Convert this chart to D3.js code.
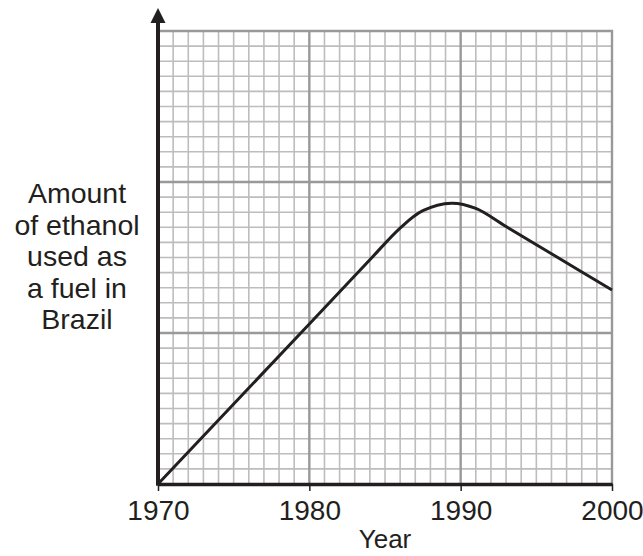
<!DOCTYPE html>
<html><head><meta charset="utf-8">
<script src="https://cdn.jsdelivr.net/npm/d3@7"></script>
<style>body{margin:0;background:#fff}svg{display:block}text{font-family:"Liberation Sans",Arial,sans-serif;fill:#231f20}</style>
</head><body><div id="chart"></div>
<script>
const years = [1970, 1980, 1984, 1986, 1987.5, 1989.4, 1991, 1993, 1996, 2000];
const amounts = [0, 10.6, 14.85, 16.95, 18.1, 18.6, 18.25, 17.05, 15.25, 12.85];
const xTickLabels = [1970, 1980, 1990, 2000];
const yLabelLines = ["Amount", "of ethanol", "used as", "a fuel in", "Brazil"];
const xTitle = "Year";

const W = 643, H = 556;
const svg = d3.select("#chart").append("svg").attr("width", W).attr("height", H);
const x = d3.scaleLinear().domain([1970, 2000]).range([158, 612]);
const y = d3.scaleLinear().domain([0, 30]).range([484, 31]);

const gGrid = svg.append("g");
const minorX = d3.range(1971, 2000).filter(v => v % 10 !== 0);
const minorY = d3.range(1, 30).filter(v => v % 10 !== 0);
gGrid.selectAll(".mx").data(minorX).join("line")
  .attr("x1", d => x(d)).attr("x2", d => x(d)).attr("y1", y(0)).attr("y2", y(30))
  .attr("stroke", "#bdbdbd").attr("stroke-width", 1.6);
gGrid.selectAll(".my").data(minorY).join("line")
  .attr("y1", d => y(d)).attr("y2", d => y(d)).attr("x1", x(1970)).attr("x2", x(2000))
  .attr("stroke", "#bdbdbd").attr("stroke-width", 1.6);
gGrid.selectAll(".Mx").data([1980, 1990, 2000]).join("line")
  .attr("x1", d => x(d)).attr("x2", d => x(d)).attr("y1", y(0)).attr("y2", y(30) - 1)
  .attr("stroke", "#999").attr("stroke-width", 2.4);
gGrid.selectAll(".My").data([10, 20, 30]).join("line")
  .attr("y1", d => y(d)).attr("y2", d => y(d)).attr("x1", x(1970)).attr("x2", x(2000) + 1)
  .attr("stroke", "#999").attr("stroke-width", 2.4);

// curve
const pts = years.map((d, i) => [d, amounts[i]]);
svg.append("path").datum(pts)
  .attr("d", d3.line().x(d => x(d[0])).y(d => y(d[1])).curve(d3.curveCatmullRom.alpha(0.5)))
  .attr("fill", "none").attr("stroke", "#231f20").attr("stroke-width", 3);

// x axis
const xAxis = svg.append("g").attr("transform", `translate(0,${y(0)})`)
  .call(d3.axisBottom(x).tickValues(xTickLabels).tickFormat(d3.format("d")).tickSize(7).tickSizeOuter(0).tickPadding(9));
xAxis.select(".domain").attr("stroke", "#231f20").attr("stroke-width", 3.5);
xAxis.selectAll(".tick line").attr("stroke", "#231f20").attr("stroke-width", 1.5);
xAxis.selectAll(".tick text").attr("font-size", 28).attr("fill", "#231f20")
  .attr("font-family", "Liberation Sans, Arial, sans-serif");

// y axis with arrow
const yTop = y(30) - 23;
svg.append("line").attr("x1", x(1970)).attr("x2", x(1970)).attr("y1", y(0) + 1.75).attr("y2", yTop + 10)
  .attr("stroke", "#231f20").attr("stroke-width", 4);
svg.append("path")
  .attr("d", `M${x(1970)},${yTop} L${x(1970) + 7.5},${yTop + 15} L${x(1970) - 7.5},${yTop + 15} Z`)
  .attr("fill", "#231f20");

// y label
svg.append("text").attr("text-anchor", "middle").attr("font-size", 28.5)
  .selectAll("tspan").data(yLabelLines).join("tspan")
  .attr("x", 77).attr("y", (d, i) => 203 + i * 31.5).text(d => d);

// x title
svg.append("text").attr("text-anchor", "middle").attr("font-size", 26)
  .attr("x", (x(1970) + x(2000)) / 2).attr("y", 548).text(xTitle);
</script></body></html>
